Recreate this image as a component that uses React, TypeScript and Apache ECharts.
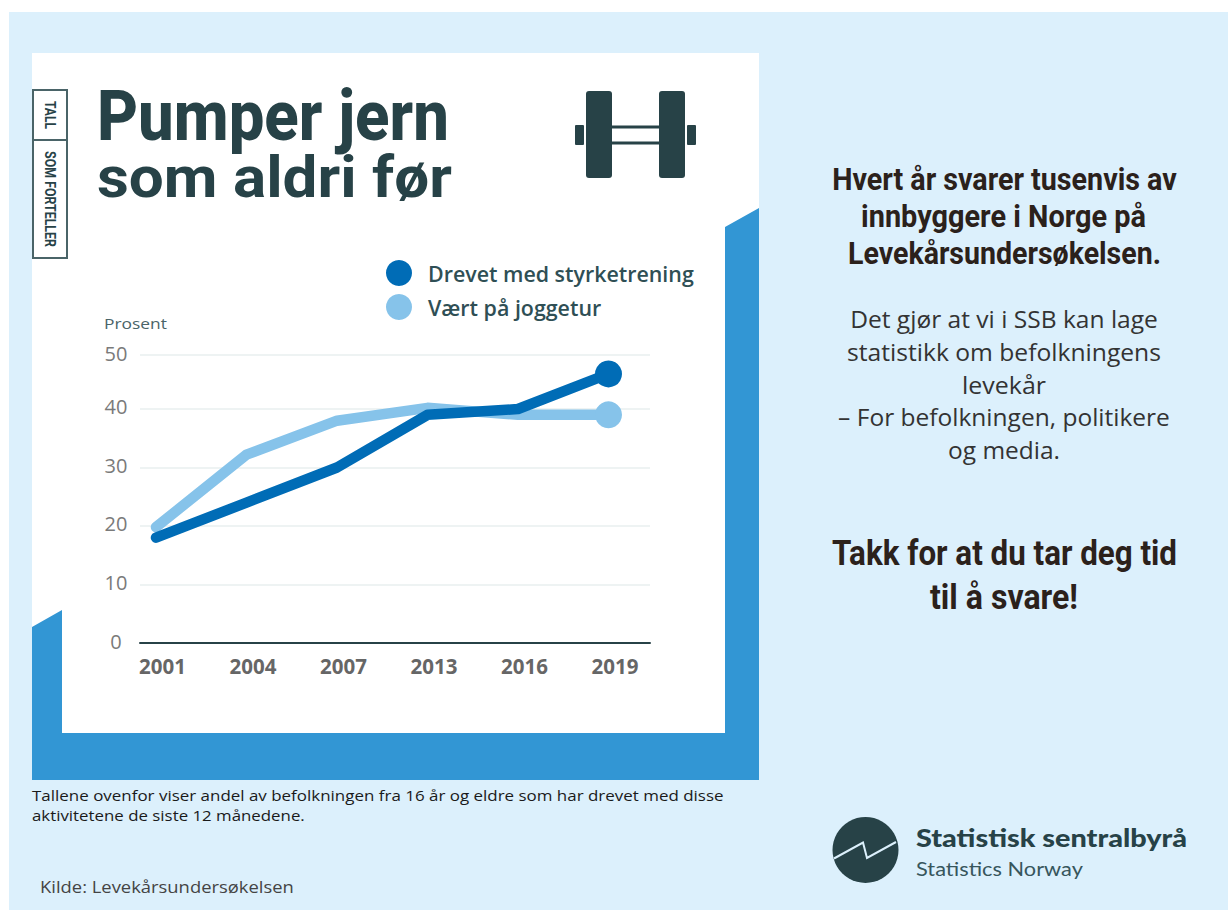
import React, { useEffect, useRef } from "react";
import * as echarts from "echarts";

const years = ["2001", "2004", "2007", "2013", "2016", "2019"];
const strength = [18, 24, 30, 39, 40, 46];
const jogging = [19.8, 32.2, 38, 40.2, 39, 39];
const yTicks = [0, 10, 20, 30, 40, 49.23];
const yTickLabels = ["0", "10", "20", "30", "40", "50"];
const seriesNames = ["Drevet med styrketrening", "Vært på joggetur"];
const titleLines = ["Pumper jern", "som aldri før"];
const introLines = ["Hvert år svarer tusenvis av", "innbyggere i Norge på", "Levekårsundersøkelsen."];
const bodyLines = ["Det gjør at vi i SSB kan lage", "statistikk om befolkningens", "levekår", "– For befolkningen, politikere", "og media."];
const thanksLines = ["Takk for at du tar deg tid", "til å svare!"];
const noteLines = ["Tallene ovenfor viser andel av befolkningen fra 16 år og eldre som har drevet med disse", "aktivitetene de siste 12 månedene."];
const sourceText = "Kilde: Levekårsundersøkelsen";

const DARK = "#274247";
const ctx = document.createElement("canvas").getContext("2d")!;

function fit(text: string, x: number, y: number, width: number, size: number, weight: number, family: string, fill: string, align = "left", rotation = 0) {
  const font = `${weight} ${size}px "${family}"`;
  ctx.font = font;
  const scaleX = width / ctx.measureText(text).width;
  return {
    type: "text", x, y, scaleX, rotation, z: 10,
    style: { text, fill, font, textAlign: align, textVerticalAlign: "middle" },
  };
}
const rect = (x: number, y: number, w: number, h: number, fill: string, r = 0, z = 1) => ({
  type: "rect", z, shape: { x, y, width: w, height: h, r }, style: { fill },
});

export default function App() {
  const ref = useRef<HTMLDivElement>(null);
  useEffect(() => {
    const chart = echarts.init(ref.current!, undefined, { renderer: "svg" });
    const bright = (color: string) => ({
      type: "line", z: color === "#006CB6" ? 4 : 3, symbol: "circle",
      symbolSize: (_v: unknown, p: { dataIndex: number }) => (p.dataIndex === years.length - 1 ? 27 : 0),
      itemStyle: { color },
      lineStyle: { color, width: 10.5, cap: "round", join: "round" },
      showSymbol: true, silent: true,
    });
    chart.setOption({
      animation: false,
      grid: { left: 140, top: 355, width: 510, height: 288, show: false },
      xAxis: {
        type: "value", min: -0.1768, max: 5.4586,
        axisLine: { onZero: true, lineStyle: { color: DARK, width: 2 } },
        axisTick: { show: false }, splitLine: { show: false },
        axisLabel: {
          customValues: [0, 1, 2, 3, 4, 5], formatter: (v: number) => years[v],
          fontFamily: "Open Sans", fontWeight: 700, fontSize: 20.5, color: "#666666",
          margin: 12, padding: [0, 0, 0, 13],
        },
      },
      yAxis: {
        type: "value", min: 0, max: 49.23,
        axisLine: { show: false },
        axisTick: { show: false, customValues: yTicks },
        splitLine: { lineStyle: { color: "#EEF3F3", width: 2 } },
        axisLabel: {
          customValues: yTicks, formatter: (v: number) => yTickLabels[yTicks.indexOf(v)],
          fontFamily: "Open Sans", fontSize: 20, color: "#7A7A7A",
          align: "center", verticalAlign: "bottom", lineHeight: 4, margin: 24,
        },
      },
      legend: {
        show: true, orient: "vertical", left: 386, top: 260, padding: 0, itemGap: 8,
        itemWidth: 26, itemHeight: 26, icon: "circle", selectedMode: false,
        data: [seriesNames[0], seriesNames[1]],
        textStyle: { fontFamily: "Open Sans", fontWeight: 600, fontSize: 21.4, color: "#2F4F55", padding: [0, 0, 0, 11] },
      },
      series: [
        { ...bright("#86C3EA"), name: seriesNames[1], data: jogging.map((v, i) => [i, v]) },
        { ...bright("#006CB6"), name: seriesNames[0], data: strength.map((v, i) => [i, v]) },
      ],
      graphic: {
        elements: [
          rect(9, 12, 1219, 898, "#DCF0FC", 0, -10),
          rect(32, 53, 727, 727, "#FFFFFF", 0, -9),
          { type: "polygon", z: -8, shape: { points: [[32, 627], [62, 610], [62, 733], [725, 733], [725, 227], [759, 208], [759, 780], [32, 780]] }, style: { fill: "#3296D4" } },
          { type: "rect", z: 5, shape: { x: 33, y: 90, width: 34, height: 168 }, style: { fill: "#FFFFFF", stroke: "#4A6468", lineWidth: 2 } },
          { type: "line", z: 6, shape: { x1: 33, y1: 140, x2: 67, y2: 140 }, style: { stroke: "#4A6468", lineWidth: 2 } },
          fit("TALL", 49.5, 115, 28, 14, 700, "Roboto", DARK, "center", -Math.PI / 2),
          fit("SOM FORTELLER", 50, 199, 96, 14, 700, "Roboto", DARK, "center", -Math.PI / 2),
          fit(titleLines[0], 97, 116, 352, 71, 800, "Roboto", DARK),
          fit(titleLines[1], 97, 178, 355, 57, 700, "Roboto", DARK),
          rect(586, 91, 26, 87, DARK, 3),
          rect(659, 91, 26, 87, DARK, 3),
          rect(575, 125, 9, 20, DARK, 1),
          rect(687, 125, 9, 20, DARK, 1),
          rect(611, 125.5, 49, 3, DARK),
          rect(611, 141.5, 49, 3, DARK),
          fit("Prosent", 104, 323, 63, 15, 400, "Open Sans", "#4A6468"),
          fit(introLines[0], 1004.5, 179, 345, 32, 700, "Roboto", "#2B211B", "center"),
          fit(introLines[1], 1003.5, 216, 285, 32, 700, "Roboto", "#2B211B", "center"),
          fit(introLines[2], 1004.5, 253, 313, 32, 700, "Roboto", "#2B211B", "center"),
          fit(bodyLines[0], 1004, 319, 308, 24, 400, "Open Sans", "#333333", "center"),
          fit(bodyLines[1], 1004, 352, 314, 24, 400, "Open Sans", "#333333", "center"),
          fit(bodyLines[2], 1004, 385, 84, 24, 400, "Open Sans", "#333333", "center"),
          fit(bodyLines[3], 1004, 417, 332, 24, 400, "Open Sans", "#333333", "center"),
          fit(bodyLines[4], 1004, 450, 112, 24, 400, "Open Sans", "#333333", "center"),
          fit(thanksLines[0], 1004.5, 553, 345, 36, 700, "Roboto", "#2B211B", "center"),
          fit(thanksLines[1], 1004, 596, 148, 36, 700, "Roboto", "#2B211B", "center"),
          fit(noteLines[0], 32, 795, 692, 15, 400, "Open Sans", "#1A1A1A"),
          fit(noteLines[1], 32, 815, 273, 15, 400, "Open Sans", "#1A1A1A"),
          fit(sourceText, 40, 887, 254, 16, 400, "Open Sans", "#444444"),
          { type: "circle", z: 5, shape: { cx: 865.5, cy: 850, r: 33 }, style: { fill: DARK } },
          { type: "polyline", z: 6, shape: { points: [[834, 858.5], [863, 842.5], [867, 858], [896, 842]] }, style: { stroke: "#DCF0FC", fill: "none", lineWidth: 2 } },
          fit("Statistisk sentralbyrå", 916, 837, 271, 25, 900, "Lato", DARK),
          fit("Statistics Norway", 916, 868, 167, 20, 400, "Lato", "#37565C"),
        ],
      },
    });
    return () => chart.dispose();
  }, []);
  return <div ref={ref} style={{ position: "absolute", left: 0, top: 0, width: 1228, height: 910, background: "#FFFFFF" }} />;
}
